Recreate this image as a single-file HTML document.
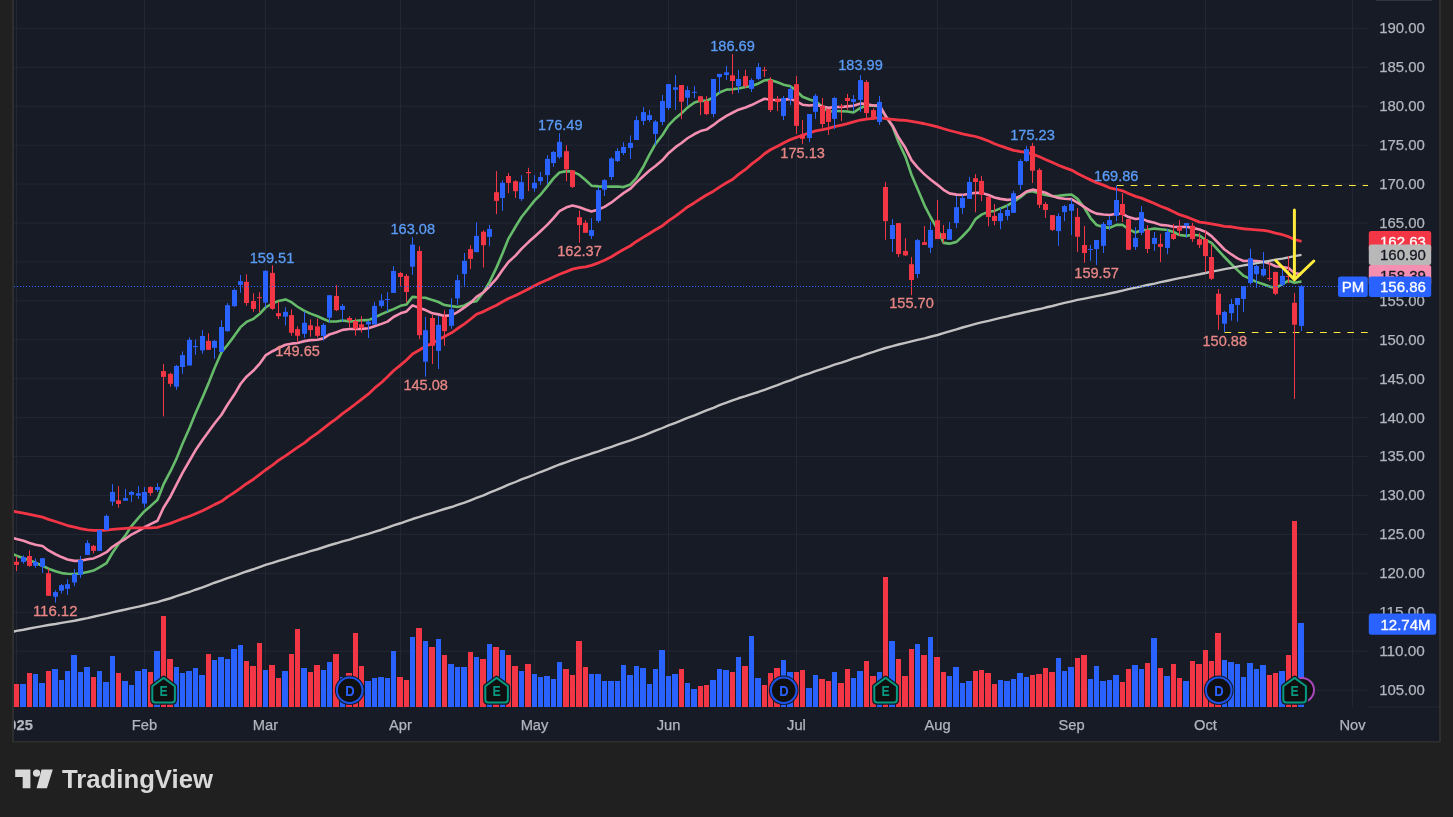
<!DOCTYPE html>
<html lang="en"><head><meta charset="utf-8"><title>PM chart - TradingView</title>
<style>html,body{margin:0;padding:0;background:#202020;overflow:hidden}body{width:1453px;height:817px}</style></head>
<body>
<svg width="1453" height="817" viewBox="0 0 1453 817" style="display:block;font-family:'Liberation Sans',sans-serif;will-change:transform">
<rect x="0" y="0" width="1453" height="817" fill="#202020"/>
<rect x="13" y="-2" width="1427" height="743.5" fill="#171b26"/>
<g fill="#232734">
<rect x="14" y="27.90" width="1354" height="1"/>
<rect x="14" y="66.82" width="1354" height="1"/>
<rect x="14" y="105.74" width="1354" height="1"/>
<rect x="14" y="144.66" width="1354" height="1"/>
<rect x="14" y="183.58" width="1354" height="1"/>
<rect x="14" y="222.50" width="1354" height="1"/>
<rect x="14" y="261.42" width="1354" height="1"/>
<rect x="14" y="300.34" width="1354" height="1"/>
<rect x="14" y="339.26" width="1354" height="1"/>
<rect x="14" y="378.18" width="1354" height="1"/>
<rect x="14" y="417.10" width="1354" height="1"/>
<rect x="14" y="456.02" width="1354" height="1"/>
<rect x="14" y="494.94" width="1354" height="1"/>
<rect x="14" y="533.86" width="1354" height="1"/>
<rect x="14" y="572.78" width="1354" height="1"/>
<rect x="14" y="611.70" width="1354" height="1"/>
<rect x="14" y="650.62" width="1354" height="1"/>
<rect x="14" y="689.54" width="1354" height="1"/>
<rect x="16.0" y="0" width="1" height="707"/>
<rect x="144.0" y="0" width="1" height="707"/>
<rect x="265.0" y="0" width="1" height="707"/>
<rect x="400.0" y="0" width="1" height="707"/>
<rect x="534.0" y="0" width="1" height="707"/>
<rect x="668.0" y="0" width="1" height="707"/>
<rect x="796.0" y="0" width="1" height="707"/>
<rect x="937.0" y="0" width="1" height="707"/>
<rect x="1071.0" y="0" width="1" height="707"/>
<rect x="1205.0" y="0" width="1" height="707"/>
<rect x="1352.0" y="0" width="1" height="707"/>
<rect x="1368" y="706.5" width="72" height="1"/>
</g>
<g shape-rendering="crispEdges">
<rect x="14" y="683.9" width="5" height="23.1" fill="#f23645"/>
<rect x="20" y="683.9" width="6" height="23.1" fill="#2962ff"/>
<rect x="27" y="672.9" width="5" height="34.1" fill="#f23645"/>
<rect x="33" y="674.0" width="5" height="33.0" fill="#2962ff"/>
<rect x="39" y="683.0" width="6" height="24.0" fill="#2962ff"/>
<rect x="46" y="671.1" width="5" height="35.9" fill="#f23645"/>
<rect x="52" y="668.9" width="6" height="38.1" fill="#2962ff"/>
<rect x="59" y="679.9" width="5" height="27.1" fill="#2962ff"/>
<rect x="65" y="671.1" width="5" height="35.9" fill="#2962ff"/>
<rect x="71" y="654.7" width="6" height="52.3" fill="#2962ff"/>
<rect x="78" y="672.0" width="5" height="35.0" fill="#2962ff"/>
<rect x="84" y="667.0" width="6" height="40.0" fill="#2962ff"/>
<rect x="91" y="676.8" width="5" height="30.2" fill="#f23645"/>
<rect x="97" y="671.1" width="5" height="35.9" fill="#2962ff"/>
<rect x="103" y="682.1" width="6" height="24.9" fill="#2962ff"/>
<rect x="110" y="656.0" width="5" height="51.0" fill="#2962ff"/>
<rect x="116" y="672.9" width="5" height="34.1" fill="#f23645"/>
<rect x="122" y="680.8" width="6" height="26.2" fill="#2962ff"/>
<rect x="129" y="685.0" width="5" height="22.0" fill="#2962ff"/>
<rect x="135" y="671.1" width="6" height="35.9" fill="#2962ff"/>
<rect x="142" y="668.9" width="5" height="38.1" fill="#2962ff"/>
<rect x="148" y="672.0" width="5" height="35.0" fill="#f23645"/>
<rect x="154" y="651.1" width="6" height="55.9" fill="#2962ff"/>
<rect x="161" y="616.2" width="5" height="90.8" fill="#f23645"/>
<rect x="167" y="659.1" width="6" height="47.9" fill="#f23645"/>
<rect x="174" y="667.0" width="5" height="40.0" fill="#2962ff"/>
<rect x="180" y="672.9" width="5" height="34.1" fill="#2962ff"/>
<rect x="186" y="671.1" width="6" height="35.9" fill="#2962ff"/>
<rect x="193" y="668.0" width="5" height="39.0" fill="#2962ff"/>
<rect x="199" y="675.0" width="6" height="32.0" fill="#2962ff"/>
<rect x="206" y="654.0" width="5" height="53.0" fill="#f23645"/>
<rect x="212" y="660.0" width="5" height="47.0" fill="#2962ff"/>
<rect x="218" y="657.1" width="6" height="49.9" fill="#2962ff"/>
<rect x="225" y="658.9" width="5" height="48.1" fill="#2962ff"/>
<rect x="231" y="649.0" width="6" height="58.0" fill="#2962ff"/>
<rect x="238" y="645.0" width="5" height="62.0" fill="#2962ff"/>
<rect x="244" y="660.9" width="5" height="46.1" fill="#f23645"/>
<rect x="250" y="665.9" width="6" height="41.1" fill="#f23645"/>
<rect x="257" y="643.0" width="5" height="64.0" fill="#f23645"/>
<rect x="263" y="669.9" width="5" height="37.1" fill="#2962ff"/>
<rect x="269" y="665.1" width="6" height="41.9" fill="#f23645"/>
<rect x="276" y="677.9" width="5" height="29.1" fill="#f23645"/>
<rect x="282" y="670.8" width="6" height="36.2" fill="#2962ff"/>
<rect x="289" y="654.0" width="5" height="53.0" fill="#f23645"/>
<rect x="295" y="629.0" width="5" height="78.0" fill="#f23645"/>
<rect x="301" y="667.8" width="6" height="39.2" fill="#2962ff"/>
<rect x="308" y="671.9" width="5" height="35.1" fill="#f23645"/>
<rect x="314" y="665.1" width="6" height="41.9" fill="#f23645"/>
<rect x="321" y="669.9" width="5" height="37.1" fill="#2962ff"/>
<rect x="327" y="661.9" width="5" height="45.1" fill="#2962ff"/>
<rect x="333" y="654.0" width="6" height="53.0" fill="#f23645"/>
<rect x="340" y="677.4" width="5" height="29.6" fill="#2962ff"/>
<rect x="346" y="672.9" width="6" height="34.1" fill="#f23645"/>
<rect x="353" y="633.0" width="5" height="74.0" fill="#f23645"/>
<rect x="359" y="665.9" width="5" height="41.1" fill="#f23645"/>
<rect x="365" y="680.9" width="6" height="26.1" fill="#2962ff"/>
<rect x="372" y="677.9" width="5" height="29.1" fill="#2962ff"/>
<rect x="378" y="676.9" width="6" height="30.1" fill="#2962ff"/>
<rect x="385" y="677.9" width="5" height="29.1" fill="#2962ff"/>
<rect x="391" y="651.0" width="5" height="56.0" fill="#2962ff"/>
<rect x="397" y="676.9" width="6" height="30.1" fill="#f23645"/>
<rect x="404" y="679.9" width="5" height="27.1" fill="#f23645"/>
<rect x="410" y="637.0" width="5" height="70.0" fill="#2962ff"/>
<rect x="416" y="627.9" width="6" height="79.1" fill="#f23645"/>
<rect x="423" y="641.0" width="5" height="66.0" fill="#2962ff"/>
<rect x="429" y="646.9" width="6" height="60.1" fill="#f23645"/>
<rect x="436" y="638.9" width="5" height="68.1" fill="#2962ff"/>
<rect x="442" y="654.9" width="5" height="52.1" fill="#f23645"/>
<rect x="448" y="664.0" width="6" height="43.0" fill="#2962ff"/>
<rect x="455" y="666.8" width="5" height="40.2" fill="#2962ff"/>
<rect x="461" y="666.8" width="6" height="40.2" fill="#2962ff"/>
<rect x="468" y="652.0" width="5" height="55.0" fill="#f23645"/>
<rect x="474" y="656.9" width="5" height="50.1" fill="#2962ff"/>
<rect x="480" y="658.9" width="6" height="48.1" fill="#f23645"/>
<rect x="487" y="644.0" width="5" height="63.0" fill="#2962ff"/>
<rect x="493" y="646.9" width="6" height="60.1" fill="#f23645"/>
<rect x="500" y="649.9" width="5" height="57.1" fill="#2962ff"/>
<rect x="506" y="654.9" width="5" height="52.1" fill="#f23645"/>
<rect x="512" y="665.9" width="6" height="41.1" fill="#f23645"/>
<rect x="519" y="670.8" width="5" height="36.2" fill="#2962ff"/>
<rect x="525" y="664.0" width="6" height="43.0" fill="#f23645"/>
<rect x="532" y="673.9" width="5" height="33.1" fill="#2962ff"/>
<rect x="538" y="676.9" width="5" height="30.1" fill="#2962ff"/>
<rect x="544" y="675.9" width="6" height="31.1" fill="#2962ff"/>
<rect x="551" y="678.8" width="5" height="28.2" fill="#2962ff"/>
<rect x="557" y="661.9" width="5" height="45.1" fill="#2962ff"/>
<rect x="563" y="668.9" width="6" height="38.1" fill="#f23645"/>
<rect x="570" y="675.0" width="5" height="32.0" fill="#f23645"/>
<rect x="576" y="641.0" width="6" height="66.0" fill="#f23645"/>
<rect x="583" y="666.8" width="5" height="40.2" fill="#f23645"/>
<rect x="589" y="673.9" width="5" height="33.1" fill="#2962ff"/>
<rect x="595" y="673.9" width="6" height="33.1" fill="#2962ff"/>
<rect x="602" y="680.9" width="5" height="26.1" fill="#2962ff"/>
<rect x="608" y="680.9" width="6" height="26.1" fill="#2962ff"/>
<rect x="615" y="680.9" width="5" height="26.1" fill="#2962ff"/>
<rect x="621" y="664.9" width="5" height="42.1" fill="#2962ff"/>
<rect x="627" y="675.0" width="6" height="32.0" fill="#2962ff"/>
<rect x="634" y="665.9" width="5" height="41.1" fill="#2962ff"/>
<rect x="640" y="667.8" width="6" height="39.2" fill="#2962ff"/>
<rect x="647" y="683.9" width="5" height="23.1" fill="#2962ff"/>
<rect x="653" y="668.9" width="5" height="38.1" fill="#2962ff"/>
<rect x="659" y="649.9" width="6" height="57.1" fill="#2962ff"/>
<rect x="666" y="675.9" width="5" height="31.1" fill="#2962ff"/>
<rect x="672" y="673.9" width="6" height="33.1" fill="#2962ff"/>
<rect x="679" y="668.9" width="5" height="38.1" fill="#f23645"/>
<rect x="685" y="683.0" width="5" height="24.0" fill="#2962ff"/>
<rect x="691" y="688.9" width="6" height="18.1" fill="#2962ff"/>
<rect x="698" y="685.8" width="5" height="21.2" fill="#f23645"/>
<rect x="704" y="684.9" width="5" height="22.1" fill="#f23645"/>
<rect x="710" y="679.9" width="6" height="27.1" fill="#2962ff"/>
<rect x="717" y="668.9" width="5" height="38.1" fill="#2962ff"/>
<rect x="723" y="669.9" width="6" height="37.1" fill="#2962ff"/>
<rect x="730" y="671.9" width="5" height="35.1" fill="#f23645"/>
<rect x="736" y="656.9" width="5" height="50.1" fill="#2962ff"/>
<rect x="742" y="665.9" width="6" height="41.1" fill="#f23645"/>
<rect x="749" y="635.9" width="5" height="71.1" fill="#2962ff"/>
<rect x="755" y="677.9" width="6" height="29.1" fill="#2962ff"/>
<rect x="762" y="684.9" width="5" height="22.1" fill="#f23645"/>
<rect x="768" y="673.2" width="5" height="33.8" fill="#f23645"/>
<rect x="774" y="668.3" width="6" height="38.7" fill="#f23645"/>
<rect x="781" y="660.0" width="5" height="47.0" fill="#2962ff"/>
<rect x="787" y="671.9" width="6" height="35.1" fill="#2962ff"/>
<rect x="794" y="671.9" width="5" height="35.1" fill="#f23645"/>
<rect x="800" y="670.1" width="5" height="36.9" fill="#f23645"/>
<rect x="806" y="688.1" width="6" height="18.9" fill="#2962ff"/>
<rect x="813" y="675.1" width="5" height="31.9" fill="#2962ff"/>
<rect x="819" y="679.1" width="6" height="27.9" fill="#f23645"/>
<rect x="826" y="681.1" width="5" height="25.9" fill="#f23645"/>
<rect x="832" y="671.9" width="5" height="35.1" fill="#2962ff"/>
<rect x="838" y="683.1" width="6" height="23.9" fill="#f23645"/>
<rect x="845" y="669.2" width="5" height="37.8" fill="#f23645"/>
<rect x="851" y="678.2" width="5" height="28.8" fill="#2962ff"/>
<rect x="857" y="671.0" width="6" height="36.0" fill="#2962ff"/>
<rect x="864" y="661.1" width="5" height="45.9" fill="#f23645"/>
<rect x="870" y="676.2" width="6" height="30.8" fill="#f23645"/>
<rect x="877" y="672.1" width="5" height="34.9" fill="#2962ff"/>
<rect x="883" y="577.0" width="5" height="130.0" fill="#f23645"/>
<rect x="889" y="641.1" width="6" height="65.9" fill="#2962ff"/>
<rect x="896" y="659.1" width="5" height="47.9" fill="#f23645"/>
<rect x="902" y="676.2" width="6" height="30.8" fill="#f23645"/>
<rect x="909" y="649.0" width="5" height="58.0" fill="#f23645"/>
<rect x="915" y="644.0" width="5" height="63.0" fill="#2962ff"/>
<rect x="921" y="655.0" width="6" height="52.0" fill="#f23645"/>
<rect x="928" y="637.0" width="5" height="70.0" fill="#2962ff"/>
<rect x="934" y="657.1" width="6" height="49.9" fill="#f23645"/>
<rect x="941" y="672.1" width="5" height="34.9" fill="#f23645"/>
<rect x="947" y="676.2" width="5" height="30.8" fill="#2962ff"/>
<rect x="953" y="667.0" width="6" height="40.0" fill="#2962ff"/>
<rect x="960" y="683.0" width="5" height="24.0" fill="#2962ff"/>
<rect x="966" y="680.9" width="6" height="26.1" fill="#2962ff"/>
<rect x="973" y="670.8" width="5" height="36.2" fill="#f23645"/>
<rect x="979" y="669.9" width="5" height="37.1" fill="#f23645"/>
<rect x="985" y="672.9" width="6" height="34.1" fill="#f23645"/>
<rect x="992" y="683.9" width="5" height="23.1" fill="#f23645"/>
<rect x="998" y="679.9" width="5" height="27.1" fill="#2962ff"/>
<rect x="1004" y="680.9" width="6" height="26.1" fill="#2962ff"/>
<rect x="1011" y="679.0" width="5" height="28.0" fill="#2962ff"/>
<rect x="1017" y="672.9" width="6" height="34.1" fill="#2962ff"/>
<rect x="1024" y="676.9" width="5" height="30.1" fill="#2962ff"/>
<rect x="1030" y="675.0" width="5" height="32.0" fill="#f23645"/>
<rect x="1036" y="673.9" width="6" height="33.1" fill="#f23645"/>
<rect x="1043" y="667.8" width="5" height="39.2" fill="#f23645"/>
<rect x="1049" y="671.9" width="6" height="35.1" fill="#f23645"/>
<rect x="1056" y="657.9" width="5" height="49.1" fill="#2962ff"/>
<rect x="1062" y="670.8" width="5" height="36.2" fill="#2962ff"/>
<rect x="1068" y="666.8" width="6" height="40.2" fill="#2962ff"/>
<rect x="1075" y="657.9" width="5" height="49.1" fill="#f23645"/>
<rect x="1081" y="654.9" width="6" height="52.1" fill="#f23645"/>
<rect x="1088" y="679.0" width="5" height="28.0" fill="#2962ff"/>
<rect x="1094" y="665.9" width="5" height="41.1" fill="#2962ff"/>
<rect x="1100" y="680.9" width="6" height="26.1" fill="#2962ff"/>
<rect x="1107" y="679.9" width="5" height="27.1" fill="#2962ff"/>
<rect x="1113" y="675.0" width="6" height="32.0" fill="#2962ff"/>
<rect x="1120" y="681.9" width="5" height="25.1" fill="#f23645"/>
<rect x="1126" y="668.9" width="5" height="38.1" fill="#f23645"/>
<rect x="1132" y="664.9" width="6" height="42.1" fill="#2962ff"/>
<rect x="1139" y="668.9" width="5" height="38.1" fill="#2962ff"/>
<rect x="1145" y="662.9" width="5" height="44.1" fill="#f23645"/>
<rect x="1151" y="637.8" width="6" height="69.2" fill="#2962ff"/>
<rect x="1158" y="667.8" width="5" height="39.2" fill="#f23645"/>
<rect x="1164" y="675.8" width="6" height="31.2" fill="#2962ff"/>
<rect x="1171" y="663.7" width="5" height="43.3" fill="#f23645"/>
<rect x="1177" y="677.6" width="5" height="29.4" fill="#f23645"/>
<rect x="1183" y="681.0" width="6" height="26.0" fill="#2962ff"/>
<rect x="1190" y="660.9" width="5" height="46.1" fill="#f23645"/>
<rect x="1196" y="663.7" width="6" height="43.3" fill="#f23645"/>
<rect x="1203" y="649.8" width="5" height="57.2" fill="#f23645"/>
<rect x="1209" y="660.9" width="5" height="46.1" fill="#f23645"/>
<rect x="1215" y="632.9" width="6" height="74.1" fill="#f23645"/>
<rect x="1222" y="659.9" width="5" height="47.1" fill="#2962ff"/>
<rect x="1228" y="661.7" width="6" height="45.3" fill="#2962ff"/>
<rect x="1235" y="663.7" width="5" height="43.3" fill="#2962ff"/>
<rect x="1241" y="676.6" width="5" height="30.4" fill="#2962ff"/>
<rect x="1247" y="663.0" width="6" height="44.0" fill="#2962ff"/>
<rect x="1254" y="668.9" width="5" height="38.1" fill="#2962ff"/>
<rect x="1260" y="664.8" width="6" height="42.2" fill="#2962ff"/>
<rect x="1267" y="674.8" width="5" height="32.2" fill="#f23645"/>
<rect x="1273" y="673.0" width="5" height="34.0" fill="#f23645"/>
<rect x="1279" y="670.9" width="6" height="36.1" fill="#2962ff"/>
<rect x="1286" y="654.7" width="5" height="52.3" fill="#f23645"/>
<rect x="1292" y="520.8" width="5" height="186.2" fill="#f23645"/>
<rect x="1298" y="622.6" width="6" height="84.4" fill="#2962ff"/>
</g>
<polyline points="13.0,554.21 16.5,555.62 23.5,558.18 29.5,560.26 35.5,562.75 42.5,565.72 48.5,568.67 55.5,571.22 61.5,573.09 67.5,573.77 74.5,573.93 80.5,573.43 87.5,572.04 93.5,570.53 99.5,567.37 106.5,563.15 112.5,552.77 118.5,543.96 125.5,535.25 131.5,526.03 138.5,517.95 144.5,511.16 150.5,506.14 157.5,499.77 163.5,484.44 170.5,471.23 176.5,458.62 182.5,443.73 189.5,427.91 195.5,413.32 202.5,397.59 208.5,383.37 214.5,368.17 221.5,352.16 227.5,344.98 234.5,335.60 240.5,327.13 246.5,321.93 253.5,318.82 259.5,314.02 265.5,307.50 272.5,303.40 278.5,300.93 285.5,299.41 291.5,302.17 297.5,306.75 304.5,310.92 310.5,313.62 317.5,316.31 323.5,318.99 329.5,321.43 336.5,321.56 342.5,320.53 349.5,321.40 355.5,321.00 361.5,320.21 368.5,320.12 374.5,317.69 381.5,314.16 387.5,311.57 393.5,309.16 400.5,305.83 406.5,304.44 412.5,296.84 419.5,297.48 425.5,297.72 432.5,300.11 438.5,302.01 444.5,305.08 451.5,306.10 457.5,307.02 464.5,305.42 470.5,302.11 476.5,301.24 483.5,292.23 489.5,282.12 496.5,267.63 502.5,253.42 508.5,238.59 515.5,226.78 521.5,216.98 528.5,208.22 534.5,200.62 540.5,194.73 547.5,186.09 553.5,178.39 559.5,172.48 566.5,171.13 572.5,171.55 579.5,174.94 585.5,180.00 591.5,185.68 598.5,186.40 604.5,186.72 611.5,186.67 617.5,186.57 623.5,187.09 630.5,184.45 636.5,177.76 643.5,166.46 649.5,154.70 655.5,143.85 662.5,134.94 668.5,125.34 675.5,118.21 681.5,113.29 687.5,107.60 694.5,102.50 700.5,100.67 706.5,100.86 713.5,97.25 719.5,92.47 726.5,89.61 732.5,89.31 738.5,88.48 745.5,86.92 751.5,85.92 758.5,83.43 764.5,80.32 770.5,79.92 777.5,82.23 783.5,84.64 790.5,86.32 796.5,90.80 802.5,96.78 809.5,99.57 815.5,101.14 822.5,106.82 828.5,111.96 834.5,110.76 841.5,111.23 847.5,111.52 853.5,112.53 860.5,107.94 866.5,105.38 873.5,105.76 879.5,106.37 885.5,116.08 892.5,126.39 898.5,142.00 905.5,156.86 911.5,174.75 917.5,188.85 924.5,205.33 930.5,217.02 937.5,229.13 943.5,242.84 949.5,243.66 956.5,241.87 962.5,236.26 969.5,228.92 975.5,219.13 981.5,214.61 988.5,211.82 994.5,210.93 1000.5,208.34 1007.5,205.44 1013.5,201.85 1020.5,197.23 1026.5,192.34 1032.5,191.21 1039.5,193.48 1045.5,195.00 1052.5,196.28 1058.5,195.79 1064.5,195.09 1071.5,194.48 1077.5,198.84 1084.5,208.04 1090.5,218.04 1096.5,224.96 1103.5,226.89 1109.5,227.89 1116.5,224.90 1122.5,224.80 1128.5,229.18 1135.5,232.57 1141.5,230.10 1147.5,229.70 1154.5,228.59 1160.5,229.29 1167.5,230.08 1173.5,231.98 1179.5,235.06 1186.5,235.86 1192.5,234.79 1199.5,235.49 1205.5,239.88 1211.5,242.85 1218.5,250.54 1224.5,257.03 1231.5,264.23 1237.5,270.13 1243.5,275.67 1250.5,279.18 1256.5,281.87 1263.5,284.27 1269.5,286.58 1275.5,288.09 1282.5,284.20 1288.5,280.70 1294.5,282.78 1301.5,281.59" fill="none" stroke="#66bb6a" stroke-width="2.6" stroke-linejoin="round" stroke-linecap="butt"/>
<polyline points="13.0,538.11 16.5,539.09 23.5,540.73 29.5,543.01 35.5,544.72 42.5,545.94 48.5,550.48 55.5,554.26 61.5,557.07 67.5,559.54 74.5,560.87 80.5,560.79 87.5,559.18 93.5,558.42 99.5,555.86 106.5,552.22 112.5,546.75 118.5,542.86 125.5,538.79 131.5,534.54 138.5,530.80 144.5,527.27 150.5,524.15 157.5,520.78 163.5,507.71 170.5,496.45 176.5,484.58 182.5,472.81 189.5,460.73 195.5,450.31 202.5,439.91 208.5,431.73 214.5,423.48 221.5,414.71 227.5,404.75 234.5,394.31 240.5,384.03 246.5,376.67 253.5,370.51 259.5,363.92 265.5,355.46 272.5,351.23 278.5,348.04 285.5,344.75 291.5,343.66 297.5,342.94 304.5,341.12 310.5,340.12 317.5,339.72 323.5,338.37 329.5,334.45 336.5,332.24 342.5,329.85 349.5,329.00 355.5,328.98 361.5,328.88 368.5,328.25 374.5,326.21 381.5,323.87 387.5,321.61 393.5,317.01 400.5,313.36 406.5,311.42 412.5,305.34 419.5,308.06 425.5,310.07 432.5,313.33 438.5,314.38 444.5,315.90 451.5,315.29 457.5,312.11 464.5,307.45 470.5,303.03 476.5,296.93 483.5,292.23 489.5,286.48 496.5,278.70 502.5,269.99 508.5,262.06 515.5,255.62 521.5,248.94 528.5,242.06 534.5,236.68 540.5,231.25 547.5,224.67 553.5,218.07 559.5,211.14 566.5,207.34 572.5,205.49 579.5,207.27 585.5,209.58 591.5,211.45 598.5,209.51 604.5,206.83 611.5,202.44 617.5,197.76 623.5,193.15 630.5,188.58 636.5,182.35 643.5,175.96 649.5,170.43 655.5,166.00 662.5,160.09 668.5,153.18 675.5,147.18 681.5,143.05 687.5,138.24 694.5,134.03 700.5,131.10 706.5,129.54 713.5,124.95 719.5,120.31 726.5,115.94 732.5,112.77 738.5,109.70 745.5,107.56 751.5,105.07 758.5,101.61 764.5,98.79 770.5,99.81 777.5,100.01 783.5,99.84 790.5,98.86 796.5,101.32 802.5,104.73 809.5,105.57 815.5,104.68 822.5,106.43 828.5,107.84 834.5,106.95 841.5,106.94 847.5,106.39 853.5,105.73 860.5,103.40 866.5,104.28 873.5,105.52 879.5,105.18 885.5,115.72 892.5,125.65 898.5,137.33 905.5,148.06 911.5,160.05 917.5,167.33 924.5,174.38 930.5,179.43 937.5,184.85 943.5,189.77 949.5,193.35 956.5,194.61 962.5,194.91 969.5,193.74 975.5,192.68 981.5,192.88 988.5,195.08 994.5,197.44 1000.5,198.86 1007.5,199.87 1013.5,199.26 1020.5,195.79 1026.5,191.54 1032.5,189.65 1039.5,191.02 1045.5,192.75 1052.5,196.13 1058.5,197.94 1064.5,198.68 1071.5,199.16 1077.5,202.58 1084.5,207.17 1090.5,210.97 1096.5,213.61 1103.5,214.55 1109.5,215.05 1116.5,213.69 1122.5,213.82 1128.5,217.09 1135.5,218.98 1141.5,218.35 1147.5,221.14 1154.5,222.66 1160.5,224.87 1167.5,225.52 1173.5,226.75 1179.5,227.12 1186.5,226.75 1192.5,227.87 1199.5,229.42 1205.5,231.84 1211.5,236.11 1218.5,243.26 1224.5,249.49 1231.5,254.45 1237.5,258.41 1243.5,260.93 1250.5,260.69 1256.5,261.16 1263.5,261.86 1269.5,263.44 1275.5,266.20 1282.5,267.08 1288.5,267.98 1294.5,273.13 1301.5,274.32" fill="none" stroke="#f48fb1" stroke-width="2.6" stroke-linejoin="round" stroke-linecap="butt"/>
<polyline points="13.0,511.13 16.5,511.78 23.5,513.06 29.5,514.33 35.5,515.61 42.5,517.15 48.5,519.32 55.5,521.47 61.5,523.51 67.5,525.51 74.5,527.05 80.5,528.58 87.5,529.86 93.5,530.34 99.5,530.48 106.5,530.05 112.5,529.46 118.5,528.82 125.5,528.35 131.5,527.96 138.5,527.79 144.5,527.79 150.5,527.79 157.5,527.44 163.5,525.52 170.5,523.36 176.5,520.96 182.5,518.61 189.5,516.26 195.5,513.74 202.5,510.75 208.5,507.77 214.5,504.62 221.5,501.33 227.5,496.86 234.5,492.44 240.5,488.13 246.5,483.70 253.5,479.21 259.5,474.69 265.5,470.01 272.5,465.19 278.5,460.42 285.5,455.91 291.5,451.55 297.5,447.37 304.5,442.83 310.5,437.86 317.5,433.18 323.5,428.47 329.5,423.68 336.5,418.58 342.5,413.56 349.5,408.66 355.5,403.99 361.5,399.39 368.5,393.91 374.5,388.19 381.5,382.49 387.5,376.79 393.5,370.72 400.5,365.06 406.5,360.04 412.5,353.92 419.5,350.02 425.5,346.30 432.5,343.38 438.5,339.80 444.5,336.46 451.5,332.80 457.5,328.54 464.5,323.91 470.5,319.23 476.5,314.21 483.5,311.58 489.5,308.48 496.5,305.18 502.5,301.73 508.5,298.59 515.5,295.49 521.5,292.42 528.5,288.88 534.5,285.72 540.5,282.72 547.5,279.80 553.5,277.04 559.5,274.25 566.5,271.58 572.5,269.14 579.5,267.68 585.5,266.92 591.5,265.34 598.5,262.82 604.5,260.18 611.5,256.70 617.5,253.00 623.5,249.49 630.5,245.74 636.5,241.43 643.5,237.17 649.5,233.57 655.5,229.80 662.5,225.70 668.5,220.97 675.5,216.14 681.5,211.62 687.5,206.98 694.5,202.70 700.5,198.73 706.5,195.03 713.5,191.19 719.5,187.13 726.5,182.73 732.5,179.46 738.5,174.34 745.5,169.46 751.5,164.14 758.5,158.99 764.5,153.78 770.5,149.79 777.5,146.23 783.5,142.97 790.5,139.58 796.5,137.38 802.5,135.25 809.5,132.95 815.5,130.85 822.5,129.67 828.5,128.45 834.5,126.59 841.5,125.08 847.5,123.63 853.5,121.96 860.5,120.02 866.5,119.11 873.5,118.42 879.5,117.62 885.5,118.66 892.5,119.42 898.5,120.00 905.5,120.45 911.5,121.45 917.5,122.45 924.5,123.75 930.5,125.17 937.5,126.93 943.5,128.77 949.5,130.50 956.5,132.24 962.5,133.96 969.5,135.30 975.5,136.50 981.5,138.38 988.5,141.04 994.5,143.72 1000.5,145.94 1007.5,148.34 1013.5,150.37 1020.5,151.55 1026.5,152.25 1032.5,154.09 1039.5,156.71 1045.5,159.46 1052.5,162.44 1058.5,165.18 1064.5,167.58 1071.5,170.06 1077.5,173.45 1084.5,177.10 1090.5,179.88 1096.5,182.64 1103.5,185.15 1109.5,187.78 1116.5,189.26 1122.5,190.78 1128.5,193.50 1135.5,196.34 1141.5,198.10 1147.5,200.65 1154.5,203.44 1160.5,206.25 1167.5,208.87 1173.5,211.66 1179.5,214.68 1186.5,216.88 1192.5,219.30 1199.5,222.16 1205.5,222.86 1211.5,223.94 1218.5,225.15 1224.5,226.28 1231.5,226.76 1237.5,227.92 1243.5,228.75 1250.5,229.31 1256.5,229.85 1263.5,230.45 1269.5,231.45 1275.5,233.18 1282.5,234.74 1288.5,236.64 1294.5,239.49 1301.5,241.32" fill="none" stroke="#f23645" stroke-width="2.8" stroke-linejoin="round" stroke-linecap="butt"/>
<polyline points="13.0,631.75 16.5,630.82 23.5,629.75 29.5,628.55 35.5,627.32 42.5,626.14 48.5,625.03 55.5,623.96 61.5,622.90 67.5,621.84 74.5,620.71 80.5,619.49 87.5,618.16 93.5,616.76 99.5,615.33 106.5,613.89 112.5,612.43 118.5,610.96 125.5,609.50 131.5,608.06 138.5,606.64 144.5,605.21 150.5,603.71 157.5,602.06 163.5,600.22 170.5,598.25 176.5,596.23 182.5,594.15 189.5,592.00 195.5,589.74 202.5,587.41 208.5,585.06 214.5,582.74 221.5,580.46 227.5,578.20 234.5,575.96 240.5,573.73 246.5,571.49 253.5,569.26 259.5,567.04 265.5,564.87 272.5,562.79 278.5,560.80 285.5,558.87 291.5,556.95 297.5,555.03 304.5,553.11 310.5,551.19 317.5,549.24 323.5,547.26 329.5,545.25 336.5,543.28 342.5,541.38 349.5,539.54 355.5,537.72 361.5,535.88 368.5,533.93 374.5,531.87 381.5,529.73 387.5,527.56 393.5,525.40 400.5,523.26 406.5,521.13 412.5,519.02 419.5,516.93 425.5,514.88 432.5,512.89 438.5,510.94 444.5,509.00 451.5,507.01 457.5,504.93 464.5,502.73 470.5,500.41 476.5,497.95 483.5,495.35 489.5,492.67 496.5,489.96 502.5,487.28 508.5,484.62 515.5,482.00 521.5,479.46 528.5,476.98 534.5,474.51 540.5,472.01 547.5,469.48 553.5,466.97 559.5,464.49 566.5,462.10 572.5,459.84 579.5,457.69 585.5,455.62 591.5,453.52 598.5,451.36 604.5,449.15 611.5,446.93 617.5,444.74 623.5,442.55 630.5,440.35 636.5,438.08 643.5,435.68 649.5,433.17 655.5,430.60 662.5,428.00 668.5,425.38 675.5,422.80 681.5,420.28 687.5,417.82 694.5,415.38 700.5,412.91 706.5,410.36 713.5,407.78 719.5,405.21 726.5,402.73 732.5,400.41 738.5,398.26 745.5,396.19 751.5,394.11 758.5,391.98 764.5,389.79 770.5,387.52 777.5,385.16 783.5,382.74 790.5,380.33 796.5,377.96 802.5,375.64 809.5,373.38 815.5,371.14 822.5,368.94 828.5,366.78 834.5,364.68 841.5,362.62 847.5,360.55 853.5,358.45 860.5,356.30 866.5,354.11 873.5,351.95 879.5,349.89 885.5,347.99 892.5,346.20 898.5,344.51 905.5,342.91 911.5,341.40 917.5,339.91 924.5,338.37 930.5,336.73 937.5,335.01 943.5,333.22 949.5,331.36 956.5,329.43 962.5,327.50 969.5,325.65 975.5,323.96 981.5,322.41 988.5,320.93 994.5,319.43 1000.5,317.89 1007.5,316.32 1013.5,314.77 1020.5,313.29 1026.5,311.87 1032.5,310.47 1039.5,309.04 1045.5,307.54 1052.5,305.98 1058.5,304.39 1064.5,302.82 1071.5,301.30 1077.5,299.88 1084.5,298.58 1090.5,297.35 1096.5,296.13 1103.5,294.85 1109.5,293.49 1116.5,292.03 1122.5,290.55 1128.5,289.10 1135.5,287.69 1141.5,286.32 1147.5,284.96 1154.5,283.56 1160.5,282.13 1167.5,280.71 1173.5,279.37 1179.5,278.09 1186.5,276.83 1192.5,275.56 1199.5,274.26 1205.5,272.96 1211.5,271.66 1218.5,270.38 1224.5,269.11 1231.5,267.86 1237.5,266.63 1243.5,265.43 1250.5,264.25 1256.5,263.09 1263.5,261.95 1269.5,260.81 1275.5,259.68 1282.5,258.56 1288.5,257.40 1294.5,256.19 1301.5,254.94" fill="none" stroke="#c2c2c2" stroke-width="2.4" stroke-linejoin="round" stroke-linecap="butt"/>
<line x1="1117" y1="185.5" x2="1368" y2="185.5" stroke="#ffeb3b" stroke-width="1.05" stroke-dasharray="6.7,6.95"/>
<line x1="1224.5" y1="332.5" x2="1368" y2="332.5" stroke="#ffeb3b" stroke-width="1.05" stroke-dasharray="6.7,6.95"/>
<g>
<rect x="16" y="556.3" width="1" height="14.7" fill="#f23645"/>
<rect x="14" y="561.8" width="5" height="3.1" fill="#f23645"/>
<rect x="23" y="555.4" width="1" height="8.3" fill="#2962ff"/>
<rect x="21" y="557.1" width="5" height="4.8" fill="#2962ff"/>
<rect x="29" y="550.3" width="1" height="16.5" fill="#f23645"/>
<rect x="27" y="556.0" width="5" height="9.9" fill="#f23645"/>
<rect x="35" y="558.5" width="1" height="9.2" fill="#2962ff"/>
<rect x="33" y="561.8" width="5" height="4.0" fill="#2962ff"/>
<rect x="42" y="558.2" width="1" height="14.7" fill="#2962ff"/>
<rect x="40" y="558.2" width="5" height="8.6" fill="#2962ff"/>
<rect x="48" y="568.6" width="1" height="27.2" fill="#f23645"/>
<rect x="46" y="573.2" width="5" height="22.6" fill="#f23645"/>
<rect x="55" y="590.3" width="1" height="12.3" fill="#2962ff"/>
<rect x="53" y="592.1" width="5" height="4.6" fill="#2962ff"/>
<rect x="61" y="583.9" width="1" height="9.6" fill="#2962ff"/>
<rect x="59" y="585.2" width="5" height="5.5" fill="#2962ff"/>
<rect x="67" y="579.3" width="1" height="15.6" fill="#2962ff"/>
<rect x="65" y="584.2" width="5" height="4.6" fill="#2962ff"/>
<rect x="74" y="569.2" width="1" height="16.9" fill="#2962ff"/>
<rect x="72" y="574.1" width="5" height="8.4" fill="#2962ff"/>
<rect x="80" y="556.0" width="1" height="21.9" fill="#2962ff"/>
<rect x="78" y="560.0" width="5" height="14.7" fill="#2962ff"/>
<rect x="87" y="540.2" width="1" height="14.7" fill="#2962ff"/>
<rect x="85" y="543.1" width="5" height="11.8" fill="#2962ff"/>
<rect x="93" y="544.9" width="1" height="8.6" fill="#f23645"/>
<rect x="91" y="545.8" width="5" height="5.0" fill="#f23645"/>
<rect x="99" y="530.2" width="1" height="20.6" fill="#2962ff"/>
<rect x="97" y="530.2" width="5" height="20.6" fill="#2962ff"/>
<rect x="106" y="514.6" width="1" height="15.4" fill="#2962ff"/>
<rect x="104" y="515.9" width="5" height="14.1" fill="#2962ff"/>
<rect x="112" y="484.1" width="1" height="21.7" fill="#2962ff"/>
<rect x="110" y="492.0" width="5" height="9.6" fill="#2962ff"/>
<rect x="118" y="486.2" width="1" height="21.5" fill="#f23645"/>
<rect x="116" y="500.3" width="5" height="3.7" fill="#f23645"/>
<rect x="125" y="488.9" width="1" height="11.8" fill="#2962ff"/>
<rect x="123" y="498.1" width="5" height="2.6" fill="#2962ff"/>
<rect x="131" y="490.8" width="1" height="11.0" fill="#2962ff"/>
<rect x="129" y="492.0" width="5" height="2.8" fill="#2962ff"/>
<rect x="138" y="486.2" width="1" height="12.7" fill="#2962ff"/>
<rect x="136" y="493.3" width="5" height="2.4" fill="#2962ff"/>
<rect x="144" y="487.1" width="1" height="20.6" fill="#2962ff"/>
<rect x="142" y="492.0" width="5" height="11.6" fill="#2962ff"/>
<rect x="150" y="486.2" width="1" height="9.6" fill="#f23645"/>
<rect x="148" y="487.1" width="5" height="5.9" fill="#f23645"/>
<rect x="157" y="483.2" width="1" height="8.8" fill="#2962ff"/>
<rect x="155" y="487.1" width="5" height="2.8" fill="#2962ff"/>
<rect x="163" y="364.0" width="1" height="52.4" fill="#f23645"/>
<rect x="161" y="371.1" width="5" height="5.8" fill="#f23645"/>
<rect x="170" y="372.8" width="1" height="13.9" fill="#f23645"/>
<rect x="168" y="373.8" width="5" height="10.0" fill="#f23645"/>
<rect x="176" y="364.9" width="1" height="25.0" fill="#2962ff"/>
<rect x="174" y="365.9" width="5" height="20.8" fill="#2962ff"/>
<rect x="182" y="351.4" width="1" height="22.5" fill="#2962ff"/>
<rect x="180" y="355.1" width="5" height="11.9" fill="#2962ff"/>
<rect x="189" y="337.4" width="1" height="28.1" fill="#2962ff"/>
<rect x="187" y="339.9" width="5" height="25.6" fill="#2962ff"/>
<rect x="195" y="339.5" width="1" height="15.2" fill="#2962ff"/>
<rect x="193" y="346.1" width="5" height="1.0" fill="#2962ff"/>
<rect x="202" y="330.1" width="1" height="23.5" fill="#2962ff"/>
<rect x="200" y="336.0" width="5" height="14.4" fill="#2962ff"/>
<rect x="208" y="333.2" width="1" height="16.6" fill="#f23645"/>
<rect x="206" y="340.9" width="5" height="8.9" fill="#f23645"/>
<rect x="214" y="339.9" width="1" height="18.9" fill="#2962ff"/>
<rect x="212" y="340.9" width="5" height="6.9" fill="#2962ff"/>
<rect x="221" y="320.3" width="1" height="31.6" fill="#2962ff"/>
<rect x="219" y="327.0" width="5" height="25.0" fill="#2962ff"/>
<rect x="227" y="303.1" width="1" height="28.7" fill="#2962ff"/>
<rect x="225" y="305.2" width="5" height="26.0" fill="#2962ff"/>
<rect x="234" y="288.5" width="1" height="18.3" fill="#2962ff"/>
<rect x="232" y="290.0" width="5" height="16.2" fill="#2962ff"/>
<rect x="240" y="275.0" width="1" height="17.7" fill="#2962ff"/>
<rect x="238" y="281.2" width="5" height="3.7" fill="#2962ff"/>
<rect x="246" y="274.3" width="1" height="31.4" fill="#f23645"/>
<rect x="244" y="281.8" width="5" height="21.2" fill="#f23645"/>
<rect x="253" y="293.3" width="1" height="18.5" fill="#f23645"/>
<rect x="251" y="301.0" width="5" height="7.9" fill="#f23645"/>
<rect x="259" y="292.2" width="1" height="20.2" fill="#f23645"/>
<rect x="257" y="297.2" width="5" height="1.0" fill="#f23645"/>
<rect x="265" y="270.2" width="1" height="37.5" fill="#2962ff"/>
<rect x="263" y="270.8" width="5" height="31.8" fill="#2962ff"/>
<rect x="272" y="265.2" width="1" height="44.7" fill="#f23645"/>
<rect x="270" y="272.9" width="5" height="36.0" fill="#f23645"/>
<rect x="278" y="301.4" width="1" height="17.7" fill="#f23645"/>
<rect x="276" y="313.1" width="5" height="3.1" fill="#f23645"/>
<rect x="285" y="307.2" width="1" height="18.3" fill="#2962ff"/>
<rect x="283" y="311.8" width="5" height="4.8" fill="#2962ff"/>
<rect x="291" y="309.3" width="1" height="26.4" fill="#f23645"/>
<rect x="289" y="315.1" width="5" height="17.7" fill="#f23645"/>
<rect x="297" y="326.4" width="1" height="15.2" fill="#f23645"/>
<rect x="295" y="329.1" width="5" height="6.7" fill="#f23645"/>
<rect x="304" y="311.4" width="1" height="26.4" fill="#2962ff"/>
<rect x="302" y="322.8" width="5" height="11.0" fill="#2962ff"/>
<rect x="310" y="319.3" width="1" height="17.5" fill="#f23645"/>
<rect x="308" y="325.3" width="5" height="4.8" fill="#f23645"/>
<rect x="317" y="318.7" width="1" height="18.7" fill="#f23645"/>
<rect x="315" y="326.4" width="5" height="9.4" fill="#f23645"/>
<rect x="323" y="323.3" width="1" height="17.3" fill="#2962ff"/>
<rect x="321" y="324.9" width="5" height="11.0" fill="#2962ff"/>
<rect x="329" y="295.2" width="1" height="27.1" fill="#2962ff"/>
<rect x="327" y="295.2" width="5" height="22.5" fill="#2962ff"/>
<rect x="336" y="285.1" width="1" height="26.0" fill="#f23645"/>
<rect x="334" y="295.9" width="5" height="14.3" fill="#f23645"/>
<rect x="342" y="303.9" width="1" height="17.6" fill="#2962ff"/>
<rect x="340" y="305.9" width="5" height="3.9" fill="#2962ff"/>
<rect x="349" y="316.1" width="1" height="11.4" fill="#f23645"/>
<rect x="347" y="318.0" width="5" height="2.5" fill="#f23645"/>
<rect x="355" y="318.4" width="1" height="17.2" fill="#f23645"/>
<rect x="353" y="321.0" width="5" height="7.8" fill="#f23645"/>
<rect x="361" y="316.1" width="1" height="16.6" fill="#f23645"/>
<rect x="359" y="324.3" width="5" height="3.5" fill="#f23645"/>
<rect x="368" y="320.4" width="1" height="17.6" fill="#2962ff"/>
<rect x="366" y="321.9" width="5" height="2.5" fill="#2962ff"/>
<rect x="374" y="302.0" width="1" height="22.5" fill="#2962ff"/>
<rect x="372" y="305.9" width="5" height="18.6" fill="#2962ff"/>
<rect x="381" y="294.1" width="1" height="13.7" fill="#2962ff"/>
<rect x="379" y="300.4" width="5" height="5.5" fill="#2962ff"/>
<rect x="387" y="292.0" width="1" height="19.8" fill="#2962ff"/>
<rect x="385" y="299.0" width="5" height="1.0" fill="#2962ff"/>
<rect x="393" y="266.1" width="1" height="26.8" fill="#2962ff"/>
<rect x="391" y="271.0" width="5" height="21.9" fill="#2962ff"/>
<rect x="400" y="272.0" width="1" height="14.3" fill="#f23645"/>
<rect x="398" y="273.0" width="5" height="3.9" fill="#f23645"/>
<rect x="406" y="274.0" width="1" height="28.4" fill="#f23645"/>
<rect x="404" y="275.9" width="5" height="16.1" fill="#f23645"/>
<rect x="412" y="237.1" width="1" height="37.8" fill="#2962ff"/>
<rect x="410" y="244.6" width="5" height="22.1" fill="#2962ff"/>
<rect x="419" y="246.2" width="1" height="92.8" fill="#f23645"/>
<rect x="417" y="251.0" width="5" height="84.2" fill="#f23645"/>
<rect x="425" y="317.0" width="1" height="59.7" fill="#2962ff"/>
<rect x="423" y="330.2" width="5" height="31.5" fill="#2962ff"/>
<rect x="432" y="314.7" width="1" height="49.4" fill="#f23645"/>
<rect x="430" y="318.0" width="5" height="27.8" fill="#f23645"/>
<rect x="438" y="316.1" width="1" height="52.9" fill="#2962ff"/>
<rect x="436" y="324.9" width="5" height="26.0" fill="#2962ff"/>
<rect x="444" y="310.2" width="1" height="35.6" fill="#f23645"/>
<rect x="442" y="316.7" width="5" height="14.5" fill="#f23645"/>
<rect x="451" y="298.1" width="1" height="30.7" fill="#2962ff"/>
<rect x="449" y="309.2" width="5" height="16.6" fill="#2962ff"/>
<rect x="457" y="274.9" width="1" height="30.0" fill="#2962ff"/>
<rect x="455" y="280.2" width="5" height="18.2" fill="#2962ff"/>
<rect x="464" y="253.0" width="1" height="32.7" fill="#2962ff"/>
<rect x="462" y="260.8" width="5" height="13.1" fill="#2962ff"/>
<rect x="470" y="245.2" width="1" height="23.9" fill="#f23645"/>
<rect x="468" y="249.1" width="5" height="9.8" fill="#f23645"/>
<rect x="476" y="222.4" width="1" height="29.8" fill="#2962ff"/>
<rect x="474" y="235.9" width="5" height="16.2" fill="#2962ff"/>
<rect x="483" y="230.3" width="1" height="37.2" fill="#f23645"/>
<rect x="481" y="231.7" width="5" height="13.5" fill="#f23645"/>
<rect x="489" y="224.9" width="1" height="21.4" fill="#2962ff"/>
<rect x="487" y="229.0" width="5" height="7.9" fill="#2962ff"/>
<rect x="496" y="171.0" width="1" height="43.1" fill="#f23645"/>
<rect x="494" y="192.2" width="5" height="8.7" fill="#f23645"/>
<rect x="502" y="180.3" width="1" height="30.6" fill="#2962ff"/>
<rect x="500" y="182.8" width="5" height="15.2" fill="#2962ff"/>
<rect x="508" y="173.0" width="1" height="20.2" fill="#f23645"/>
<rect x="506" y="176.0" width="5" height="6.9" fill="#f23645"/>
<rect x="515" y="180.3" width="1" height="17.7" fill="#f23645"/>
<rect x="513" y="181.2" width="5" height="10.0" fill="#f23645"/>
<rect x="521" y="175.1" width="1" height="25.8" fill="#2962ff"/>
<rect x="519" y="182.2" width="5" height="16.9" fill="#2962ff"/>
<rect x="528" y="167.8" width="1" height="23.3" fill="#f23645"/>
<rect x="526" y="172.0" width="5" height="1.2" fill="#f23645"/>
<rect x="534" y="175.1" width="1" height="16.6" fill="#2962ff"/>
<rect x="532" y="182.8" width="5" height="5.6" fill="#2962ff"/>
<rect x="540" y="172.0" width="1" height="12.9" fill="#2962ff"/>
<rect x="538" y="177.0" width="5" height="4.2" fill="#2962ff"/>
<rect x="547" y="155.2" width="1" height="28.7" fill="#2962ff"/>
<rect x="545" y="158.9" width="5" height="16.2" fill="#2962ff"/>
<rect x="553" y="151.0" width="1" height="15.8" fill="#2962ff"/>
<rect x="551" y="152.0" width="5" height="11.0" fill="#2962ff"/>
<rect x="559" y="133.3" width="1" height="25.6" fill="#2962ff"/>
<rect x="557" y="141.8" width="5" height="15.4" fill="#2962ff"/>
<rect x="566" y="145.4" width="1" height="35.8" fill="#f23645"/>
<rect x="564" y="151.2" width="5" height="18.1" fill="#f23645"/>
<rect x="572" y="170.3" width="1" height="17.7" fill="#f23645"/>
<rect x="570" y="170.3" width="5" height="16.6" fill="#f23645"/>
<rect x="579" y="210.5" width="1" height="32.3" fill="#f23645"/>
<rect x="577" y="217.2" width="5" height="7.9" fill="#f23645"/>
<rect x="585" y="220.3" width="1" height="12.5" fill="#f23645"/>
<rect x="583" y="222.8" width="5" height="10.0" fill="#f23645"/>
<rect x="591" y="218.2" width="1" height="20.8" fill="#2962ff"/>
<rect x="589" y="230.1" width="5" height="5.8" fill="#2962ff"/>
<rect x="598" y="187.4" width="1" height="35.4" fill="#2962ff"/>
<rect x="596" y="190.1" width="5" height="30.8" fill="#2962ff"/>
<rect x="604" y="179.1" width="1" height="16.9" fill="#2962ff"/>
<rect x="602" y="180.1" width="5" height="9.6" fill="#2962ff"/>
<rect x="611" y="157.2" width="1" height="22.9" fill="#2962ff"/>
<rect x="609" y="158.5" width="5" height="18.5" fill="#2962ff"/>
<rect x="617" y="148.1" width="1" height="13.9" fill="#2962ff"/>
<rect x="615" y="151.0" width="5" height="10.0" fill="#2962ff"/>
<rect x="623" y="142.3" width="1" height="12.9" fill="#2962ff"/>
<rect x="621" y="147.0" width="5" height="6.0" fill="#2962ff"/>
<rect x="630" y="135.4" width="1" height="23.5" fill="#2962ff"/>
<rect x="628" y="142.9" width="5" height="5.0" fill="#2962ff"/>
<rect x="636" y="116.1" width="1" height="23.9" fill="#2962ff"/>
<rect x="634" y="120.1" width="5" height="19.9" fill="#2962ff"/>
<rect x="643" y="107.2" width="1" height="18.0" fill="#2962ff"/>
<rect x="641" y="112.1" width="5" height="8.8" fill="#2962ff"/>
<rect x="649" y="110.0" width="1" height="11.9" fill="#2962ff"/>
<rect x="647" y="115.1" width="5" height="4.9" fill="#2962ff"/>
<rect x="655" y="120.1" width="1" height="25.0" fill="#2962ff"/>
<rect x="653" y="121.6" width="5" height="12.3" fill="#2962ff"/>
<rect x="662" y="94.9" width="1" height="30.2" fill="#2962ff"/>
<rect x="660" y="101.0" width="5" height="21.0" fill="#2962ff"/>
<rect x="668" y="84.1" width="1" height="25.9" fill="#2962ff"/>
<rect x="666" y="84.1" width="5" height="23.9" fill="#2962ff"/>
<rect x="675" y="75.0" width="1" height="35.0" fill="#2962ff"/>
<rect x="673" y="87.3" width="5" height="2.5" fill="#2962ff"/>
<rect x="681" y="85.0" width="1" height="34.1" fill="#f23645"/>
<rect x="679" y="85.0" width="5" height="16.7" fill="#f23645"/>
<rect x="687" y="86.2" width="1" height="19.4" fill="#2962ff"/>
<rect x="685" y="90.1" width="5" height="7.6" fill="#2962ff"/>
<rect x="694" y="86.2" width="1" height="11.9" fill="#2962ff"/>
<rect x="692" y="91.9" width="5" height="1.0" fill="#2962ff"/>
<rect x="700" y="96.2" width="1" height="18.9" fill="#f23645"/>
<rect x="698" y="96.2" width="5" height="5.6" fill="#f23645"/>
<rect x="706" y="96.2" width="1" height="18.9" fill="#f23645"/>
<rect x="704" y="101.0" width="5" height="13.1" fill="#f23645"/>
<rect x="713" y="79.0" width="1" height="38.2" fill="#2962ff"/>
<rect x="711" y="79.0" width="5" height="35.0" fill="#2962ff"/>
<rect x="719" y="73.9" width="1" height="19.1" fill="#2962ff"/>
<rect x="717" y="73.9" width="5" height="3.2" fill="#2962ff"/>
<rect x="726" y="65.9" width="1" height="14.2" fill="#2962ff"/>
<rect x="724" y="72.3" width="5" height="2.7" fill="#2962ff"/>
<rect x="732" y="54.0" width="1" height="40.1" fill="#f23645"/>
<rect x="730" y="75.3" width="5" height="5.7" fill="#f23645"/>
<rect x="738" y="69.9" width="1" height="23.1" fill="#2962ff"/>
<rect x="736" y="79.0" width="5" height="7.2" fill="#2962ff"/>
<rect x="745" y="69.9" width="1" height="18.1" fill="#f23645"/>
<rect x="743" y="76.1" width="5" height="10.0" fill="#f23645"/>
<rect x="751" y="78.2" width="1" height="13.8" fill="#2962ff"/>
<rect x="749" y="80.1" width="5" height="8.8" fill="#2962ff"/>
<rect x="758" y="63.1" width="1" height="17.0" fill="#2962ff"/>
<rect x="756" y="67.1" width="5" height="11.9" fill="#2962ff"/>
<rect x="764" y="66.7" width="1" height="10.3" fill="#f23645"/>
<rect x="762" y="69.8" width="5" height="1.0" fill="#f23645"/>
<rect x="770" y="77.1" width="1" height="35.0" fill="#f23645"/>
<rect x="768" y="80.1" width="5" height="29.9" fill="#f23645"/>
<rect x="777" y="96.0" width="1" height="15.1" fill="#f23645"/>
<rect x="775" y="99.2" width="5" height="2.9" fill="#f23645"/>
<rect x="783" y="96.0" width="1" height="24.0" fill="#2962ff"/>
<rect x="781" y="98.1" width="5" height="17.8" fill="#2962ff"/>
<rect x="790" y="86.2" width="1" height="18.8" fill="#2962ff"/>
<rect x="788" y="89.0" width="5" height="10.2" fill="#2962ff"/>
<rect x="796" y="76.1" width="1" height="57.8" fill="#f23645"/>
<rect x="794" y="84.2" width="5" height="41.7" fill="#f23645"/>
<rect x="802" y="120.1" width="1" height="23.9" fill="#f23645"/>
<rect x="800" y="134.4" width="5" height="4.4" fill="#f23645"/>
<rect x="809" y="114.0" width="1" height="28.1" fill="#2962ff"/>
<rect x="807" y="114.0" width="5" height="24.0" fill="#2962ff"/>
<rect x="815" y="93.9" width="1" height="25.0" fill="#2962ff"/>
<rect x="813" y="95.8" width="5" height="16.0" fill="#2962ff"/>
<rect x="822" y="98.0" width="1" height="29.8" fill="#f23645"/>
<rect x="820" y="106.1" width="5" height="17.9" fill="#f23645"/>
<rect x="828" y="109.0" width="1" height="25.9" fill="#f23645"/>
<rect x="826" y="109.0" width="5" height="12.9" fill="#f23645"/>
<rect x="834" y="96.9" width="1" height="32.2" fill="#2962ff"/>
<rect x="832" y="98.0" width="5" height="20.9" fill="#2962ff"/>
<rect x="841" y="103.9" width="1" height="17.1" fill="#f23645"/>
<rect x="839" y="106.0" width="5" height="1.0" fill="#f23645"/>
<rect x="847" y="93.9" width="1" height="15.9" fill="#f23645"/>
<rect x="845" y="98.0" width="5" height="3.0" fill="#f23645"/>
<rect x="853" y="95.0" width="1" height="15.9" fill="#2962ff"/>
<rect x="851" y="99.1" width="5" height="2.8" fill="#2962ff"/>
<rect x="860" y="75.1" width="1" height="36.7" fill="#2962ff"/>
<rect x="858" y="80.1" width="5" height="19.8" fill="#2962ff"/>
<rect x="866" y="80.1" width="1" height="37.8" fill="#f23645"/>
<rect x="864" y="82.0" width="5" height="31.1" fill="#f23645"/>
<rect x="873" y="108.2" width="1" height="11.7" fill="#f23645"/>
<rect x="871" y="110.1" width="5" height="7.7" fill="#f23645"/>
<rect x="879" y="96.0" width="1" height="29.0" fill="#2962ff"/>
<rect x="877" y="101.9" width="5" height="20.1" fill="#2962ff"/>
<rect x="885" y="182.0" width="1" height="57.8" fill="#f23645"/>
<rect x="883" y="187.0" width="5" height="34.1" fill="#f23645"/>
<rect x="892" y="219.1" width="1" height="32.9" fill="#2962ff"/>
<rect x="890" y="225.0" width="5" height="14.0" fill="#2962ff"/>
<rect x="898" y="223.1" width="1" height="33.9" fill="#f23645"/>
<rect x="896" y="223.1" width="5" height="31.0" fill="#f23645"/>
<rect x="905" y="238.2" width="1" height="17.8" fill="#f23645"/>
<rect x="903" y="250.9" width="5" height="4.5" fill="#f23645"/>
<rect x="911" y="257.0" width="1" height="38.2" fill="#f23645"/>
<rect x="909" y="264.2" width="5" height="15.8" fill="#f23645"/>
<rect x="917" y="239.0" width="1" height="39.0" fill="#2962ff"/>
<rect x="915" y="240.1" width="5" height="33.9" fill="#2962ff"/>
<rect x="924" y="226.0" width="1" height="18.9" fill="#f23645"/>
<rect x="922" y="242.2" width="5" height="2.7" fill="#f23645"/>
<rect x="930" y="222.0" width="1" height="31.0" fill="#2962ff"/>
<rect x="928" y="229.9" width="5" height="17.8" fill="#2962ff"/>
<rect x="937" y="200.0" width="1" height="39.0" fill="#f23645"/>
<rect x="935" y="220.2" width="5" height="18.8" fill="#f23645"/>
<rect x="943" y="225.0" width="1" height="18.0" fill="#f23645"/>
<rect x="941" y="233.1" width="5" height="5.9" fill="#f23645"/>
<rect x="949" y="222.0" width="1" height="17.8" fill="#2962ff"/>
<rect x="947" y="229.1" width="5" height="10.7" fill="#2962ff"/>
<rect x="956" y="196.0" width="1" height="32.2" fill="#2962ff"/>
<rect x="954" y="207.2" width="5" height="15.9" fill="#2962ff"/>
<rect x="962" y="194.9" width="1" height="19.1" fill="#2962ff"/>
<rect x="960" y="197.9" width="5" height="10.0" fill="#2962ff"/>
<rect x="969" y="176.9" width="1" height="22.0" fill="#2962ff"/>
<rect x="967" y="182.0" width="5" height="16.9" fill="#2962ff"/>
<rect x="975" y="174.1" width="1" height="38.2" fill="#f23645"/>
<rect x="973" y="178.2" width="5" height="3.8" fill="#f23645"/>
<rect x="981" y="175.8" width="1" height="25.3" fill="#f23645"/>
<rect x="979" y="180.9" width="5" height="14.0" fill="#f23645"/>
<rect x="988" y="195.7" width="1" height="30.6" fill="#f23645"/>
<rect x="986" y="196.8" width="5" height="20.2" fill="#f23645"/>
<rect x="994" y="204.0" width="1" height="21.2" fill="#f23645"/>
<rect x="992" y="215.9" width="5" height="5.1" fill="#f23645"/>
<rect x="1000" y="208.0" width="1" height="21.2" fill="#2962ff"/>
<rect x="998" y="213.1" width="5" height="8.0" fill="#2962ff"/>
<rect x="1007" y="205.1" width="1" height="15.1" fill="#2962ff"/>
<rect x="1005" y="210.0" width="5" height="5.9" fill="#2962ff"/>
<rect x="1013" y="190.9" width="1" height="21.8" fill="#2962ff"/>
<rect x="1011" y="193.2" width="5" height="19.6" fill="#2962ff"/>
<rect x="1020" y="159.1" width="1" height="30.7" fill="#2962ff"/>
<rect x="1018" y="161.0" width="5" height="23.9" fill="#2962ff"/>
<rect x="1026" y="145.9" width="1" height="16.1" fill="#2962ff"/>
<rect x="1024" y="149.1" width="5" height="11.9" fill="#2962ff"/>
<rect x="1032" y="142.9" width="1" height="40.1" fill="#f23645"/>
<rect x="1030" y="146.0" width="5" height="24.7" fill="#f23645"/>
<rect x="1039" y="168.2" width="1" height="39.8" fill="#f23645"/>
<rect x="1037" y="169.9" width="5" height="34.9" fill="#f23645"/>
<rect x="1045" y="202.1" width="1" height="15.9" fill="#f23645"/>
<rect x="1043" y="204.0" width="5" height="6.0" fill="#f23645"/>
<rect x="1052" y="215.1" width="1" height="15.9" fill="#f23645"/>
<rect x="1050" y="215.1" width="5" height="14.8" fill="#f23645"/>
<rect x="1058" y="213.2" width="1" height="32.6" fill="#2962ff"/>
<rect x="1056" y="216.1" width="5" height="15.0" fill="#2962ff"/>
<rect x="1064" y="204.9" width="1" height="16.2" fill="#2962ff"/>
<rect x="1062" y="206.1" width="5" height="6.0" fill="#2962ff"/>
<rect x="1071" y="198.9" width="1" height="36.1" fill="#2962ff"/>
<rect x="1069" y="204.0" width="5" height="6.8" fill="#2962ff"/>
<rect x="1077" y="208.1" width="1" height="43.8" fill="#f23645"/>
<rect x="1075" y="216.9" width="5" height="19.9" fill="#f23645"/>
<rect x="1084" y="225.9" width="1" height="36.9" fill="#f23645"/>
<rect x="1082" y="245.0" width="5" height="8.0" fill="#f23645"/>
<rect x="1090" y="245.0" width="1" height="15.9" fill="#2962ff"/>
<rect x="1088" y="249.0" width="5" height="1.0" fill="#2962ff"/>
<rect x="1096" y="240.0" width="1" height="25.0" fill="#2962ff"/>
<rect x="1094" y="240.0" width="5" height="9.1" fill="#2962ff"/>
<rect x="1103" y="222.0" width="1" height="31.0" fill="#2962ff"/>
<rect x="1101" y="224.0" width="5" height="21.8" fill="#2962ff"/>
<rect x="1109" y="216.1" width="1" height="13.8" fill="#2962ff"/>
<rect x="1107" y="220.1" width="5" height="5.1" fill="#2962ff"/>
<rect x="1116" y="185.4" width="1" height="35.8" fill="#2962ff"/>
<rect x="1114" y="200.0" width="5" height="15.9" fill="#2962ff"/>
<rect x="1122" y="193.0" width="1" height="29.0" fill="#f23645"/>
<rect x="1120" y="204.0" width="5" height="11.1" fill="#f23645"/>
<rect x="1128" y="219.1" width="1" height="30.7" fill="#f23645"/>
<rect x="1126" y="219.1" width="5" height="30.7" fill="#f23645"/>
<rect x="1135" y="227.1" width="1" height="22.8" fill="#2962ff"/>
<rect x="1133" y="237.9" width="5" height="9.1" fill="#2962ff"/>
<rect x="1141" y="206.1" width="1" height="29.0" fill="#2962ff"/>
<rect x="1139" y="212.1" width="5" height="20.7" fill="#2962ff"/>
<rect x="1147" y="225.2" width="1" height="27.9" fill="#f23645"/>
<rect x="1145" y="229.9" width="5" height="19.1" fill="#f23645"/>
<rect x="1154" y="232.0" width="1" height="18.9" fill="#2962ff"/>
<rect x="1152" y="237.9" width="5" height="6.0" fill="#2962ff"/>
<rect x="1160" y="233.9" width="1" height="28.2" fill="#f23645"/>
<rect x="1158" y="243.9" width="5" height="3.0" fill="#f23645"/>
<rect x="1167" y="229.1" width="1" height="25.0" fill="#2962ff"/>
<rect x="1165" y="232.0" width="5" height="15.9" fill="#2962ff"/>
<rect x="1173" y="224.0" width="1" height="15.9" fill="#f23645"/>
<rect x="1171" y="233.9" width="5" height="5.1" fill="#f23645"/>
<rect x="1179" y="220.0" width="1" height="15.9" fill="#f23645"/>
<rect x="1177" y="226.9" width="5" height="3.9" fill="#f23645"/>
<rect x="1186" y="223.1" width="1" height="14.6" fill="#2962ff"/>
<rect x="1184" y="223.1" width="5" height="2.6" fill="#2962ff"/>
<rect x="1192" y="222.8" width="1" height="19.2" fill="#f23645"/>
<rect x="1190" y="225.7" width="5" height="13.4" fill="#f23645"/>
<rect x="1199" y="232.9" width="1" height="15.1" fill="#f23645"/>
<rect x="1197" y="239.1" width="5" height="5.8" fill="#f23645"/>
<rect x="1205" y="230.0" width="1" height="42.5" fill="#f23645"/>
<rect x="1203" y="239.1" width="5" height="17.0" fill="#f23645"/>
<rect x="1211" y="244.9" width="1" height="35.1" fill="#f23645"/>
<rect x="1209" y="257.0" width="5" height="21.8" fill="#f23645"/>
<rect x="1218" y="289.1" width="1" height="40.6" fill="#f23645"/>
<rect x="1216" y="293.7" width="5" height="21.1" fill="#f23645"/>
<rect x="1224" y="310.8" width="1" height="21.1" fill="#2962ff"/>
<rect x="1222" y="311.9" width="5" height="11.8" fill="#2962ff"/>
<rect x="1231" y="298.8" width="1" height="21.9" fill="#2962ff"/>
<rect x="1229" y="304.0" width="5" height="9.1" fill="#2962ff"/>
<rect x="1237" y="298.0" width="1" height="23.6" fill="#2962ff"/>
<rect x="1235" y="298.0" width="5" height="6.9" fill="#2962ff"/>
<rect x="1243" y="286.2" width="1" height="25.7" fill="#2962ff"/>
<rect x="1241" y="286.2" width="5" height="12.7" fill="#2962ff"/>
<rect x="1250" y="248.8" width="1" height="36.0" fill="#2962ff"/>
<rect x="1248" y="258.2" width="5" height="24.8" fill="#2962ff"/>
<rect x="1256" y="264.8" width="1" height="23.1" fill="#2962ff"/>
<rect x="1254" y="266.0" width="5" height="8.1" fill="#2962ff"/>
<rect x="1263" y="251.9" width="1" height="24.8" fill="#2962ff"/>
<rect x="1261" y="268.9" width="5" height="6.5" fill="#2962ff"/>
<rect x="1269" y="262.0" width="1" height="18.8" fill="#f23645"/>
<rect x="1267" y="278.1" width="5" height="1.0" fill="#f23645"/>
<rect x="1275" y="271.9" width="1" height="23.1" fill="#f23645"/>
<rect x="1273" y="271.9" width="5" height="21.9" fill="#f23645"/>
<rect x="1282" y="269.0" width="1" height="17.0" fill="#2962ff"/>
<rect x="1280" y="275.9" width="5" height="8.9" fill="#2962ff"/>
<rect x="1288" y="256.0" width="1" height="27.1" fill="#f23645"/>
<rect x="1286" y="275.9" width="5" height="1.0" fill="#f23645"/>
<rect x="1294" y="293.0" width="1" height="105.9" fill="#f23645"/>
<rect x="1292" y="302.8" width="5" height="21.9" fill="#f23645"/>
<rect x="1301" y="285.1" width="1" height="45.9" fill="#2962ff"/>
<rect x="1299" y="286.2" width="5" height="39.7" fill="#2962ff"/>
</g>
<line x1="14" y1="286.5" x2="1338" y2="286.5" stroke="#2962ff" stroke-width="1.1" stroke-dasharray="1.1,1.9"/>
<g stroke="#ffeb3b" stroke-width="3" fill="none" stroke-linecap="round" stroke-linejoin="miter"><line x1="1294.4" y1="210" x2="1294.4" y2="279"/><polyline points="1275.8,260.5 1294.4,279.6 1313.8,261"/></g>
<text x="32.9" y="615.7" font-size="15.5" fill="#e98785" stroke="#e98785" stroke-width="0.3" textLength="44.6" lengthAdjust="spacingAndGlyphs">116.12</text>
<text x="249.7" y="262.9" font-size="15.5" fill="#5b9cf6" stroke="#5b9cf6" stroke-width="0.3" textLength="44.6" lengthAdjust="spacingAndGlyphs">159.51</text>
<text x="275.3" y="356.0" font-size="15.5" fill="#e98785" stroke="#e98785" stroke-width="0.3" textLength="44.6" lengthAdjust="spacingAndGlyphs">149.65</text>
<text x="390.5" y="233.9" font-size="15.5" fill="#5b9cf6" stroke="#5b9cf6" stroke-width="0.3" textLength="44.6" lengthAdjust="spacingAndGlyphs">163.08</text>
<text x="403.4" y="389.9" font-size="15.5" fill="#e98785" stroke="#e98785" stroke-width="0.3" textLength="44.6" lengthAdjust="spacingAndGlyphs">145.08</text>
<text x="538.0" y="129.7" font-size="15.5" fill="#5b9cf6" stroke="#5b9cf6" stroke-width="0.3" textLength="44.6" lengthAdjust="spacingAndGlyphs">176.49</text>
<text x="557.2" y="255.8" font-size="15.5" fill="#e98785" stroke="#e98785" stroke-width="0.3" textLength="44.6" lengthAdjust="spacingAndGlyphs">162.37</text>
<text x="710.2" y="50.5" font-size="15.5" fill="#5b9cf6" stroke="#5b9cf6" stroke-width="0.3" textLength="44.6" lengthAdjust="spacingAndGlyphs">186.69</text>
<text x="780.3" y="157.7" font-size="15.5" fill="#e98785" stroke="#e98785" stroke-width="0.3" textLength="44.6" lengthAdjust="spacingAndGlyphs">175.13</text>
<text x="838.2" y="70.4" font-size="15.5" fill="#5b9cf6" stroke="#5b9cf6" stroke-width="0.3" textLength="44.6" lengthAdjust="spacingAndGlyphs">183.99</text>
<text x="889.2" y="308.3" font-size="15.5" fill="#e98785" stroke="#e98785" stroke-width="0.3" textLength="44.6" lengthAdjust="spacingAndGlyphs">155.70</text>
<text x="1010.2" y="139.8" font-size="15.5" fill="#5b9cf6" stroke="#5b9cf6" stroke-width="0.3" textLength="44.6" lengthAdjust="spacingAndGlyphs">175.23</text>
<text x="1074.3" y="278.4" font-size="15.5" fill="#e98785" stroke="#e98785" stroke-width="0.3" textLength="44.6" lengthAdjust="spacingAndGlyphs">159.57</text>
<text x="1093.9" y="180.6" font-size="15.5" fill="#5b9cf6" stroke="#5b9cf6" stroke-width="0.3" textLength="44.6" lengthAdjust="spacingAndGlyphs">169.86</text>
<text x="1202.5" y="345.7" font-size="15.5" fill="#e98785" stroke="#e98785" stroke-width="0.3" textLength="44.6" lengthAdjust="spacingAndGlyphs">150.88</text>
<circle cx="1302" cy="690" r="12" fill="#101010" stroke="#ab47bc" stroke-width="2"/>
<path d="M163.6,677.9 L174.9,686.1999999999999 L174.9,699.6 Q174.9,702.6 171.9,702.6 L155.29999999999998,702.6 Q152.29999999999998,702.6 152.29999999999998,699.6 L152.29999999999998,686.1999999999999 Z" fill="#101010" stroke="#131722" stroke-width="4.5" stroke-linejoin="round"/>
<path d="M163.6,677.9 L174.9,686.1999999999999 L174.9,699.6 Q174.9,702.6 171.9,702.6 L155.29999999999998,702.6 Q152.29999999999998,702.6 152.29999999999998,699.6 L152.29999999999998,686.1999999999999 Z" fill="#101010" stroke="#089981" stroke-width="2" stroke-linejoin="round"/>
<text x="159.6" y="696.0" font-size="15" font-weight="bold" fill="#089981" textLength="8.2" lengthAdjust="spacingAndGlyphs">E</text>
<path d="M496.6,677.9 L507.90000000000003,686.1999999999999 L507.90000000000003,699.6 Q507.90000000000003,702.6 504.90000000000003,702.6 L488.3,702.6 Q485.3,702.6 485.3,699.6 L485.3,686.1999999999999 Z" fill="#101010" stroke="#131722" stroke-width="4.5" stroke-linejoin="round"/>
<path d="M496.6,677.9 L507.90000000000003,686.1999999999999 L507.90000000000003,699.6 Q507.90000000000003,702.6 504.90000000000003,702.6 L488.3,702.6 Q485.3,702.6 485.3,699.6 L485.3,686.1999999999999 Z" fill="#101010" stroke="#089981" stroke-width="2" stroke-linejoin="round"/>
<text x="492.6" y="696.0" font-size="15" font-weight="bold" fill="#089981" textLength="8.2" lengthAdjust="spacingAndGlyphs">E</text>
<path d="M885.6,677.9 L896.9,686.1999999999999 L896.9,699.6 Q896.9,702.6 893.9,702.6 L877.3000000000001,702.6 Q874.3000000000001,702.6 874.3000000000001,699.6 L874.3000000000001,686.1999999999999 Z" fill="#101010" stroke="#131722" stroke-width="4.5" stroke-linejoin="round"/>
<path d="M885.6,677.9 L896.9,686.1999999999999 L896.9,699.6 Q896.9,702.6 893.9,702.6 L877.3000000000001,702.6 Q874.3000000000001,702.6 874.3000000000001,699.6 L874.3000000000001,686.1999999999999 Z" fill="#101010" stroke="#089981" stroke-width="2" stroke-linejoin="round"/>
<text x="881.6" y="696.0" font-size="15" font-weight="bold" fill="#089981" textLength="8.2" lengthAdjust="spacingAndGlyphs">E</text>
<path d="M1294.6,677.9 L1305.8999999999999,686.1999999999999 L1305.8999999999999,699.6 Q1305.8999999999999,702.6 1302.8999999999999,702.6 L1286.3,702.6 Q1283.3,702.6 1283.3,699.6 L1283.3,686.1999999999999 Z" fill="#101010" stroke="#131722" stroke-width="4.5" stroke-linejoin="round"/>
<path d="M1294.6,677.9 L1305.8999999999999,686.1999999999999 L1305.8999999999999,699.6 Q1305.8999999999999,702.6 1302.8999999999999,702.6 L1286.3,702.6 Q1283.3,702.6 1283.3,699.6 L1283.3,686.1999999999999 Z" fill="#101010" stroke="#089981" stroke-width="2" stroke-linejoin="round"/>
<text x="1290.6" y="696.0" font-size="15" font-weight="bold" fill="#089981" textLength="8.2" lengthAdjust="spacingAndGlyphs">E</text>
<circle cx="349.7" cy="690.3" r="14.8" fill="#131722"/>
<circle cx="349.7" cy="690.3" r="12.8" fill="#101010" stroke="#1e53e5" stroke-width="2.1"/>
<text x="345.2" y="695.9" font-size="15.2" font-weight="bold" fill="#2962ff" textLength="9.4" lengthAdjust="spacingAndGlyphs">D</text>
<circle cx="783.7" cy="690.3" r="14.8" fill="#131722"/>
<circle cx="783.7" cy="690.3" r="12.8" fill="#101010" stroke="#1e53e5" stroke-width="2.1"/>
<text x="779.2" y="695.9" font-size="15.2" font-weight="bold" fill="#2962ff" textLength="9.4" lengthAdjust="spacingAndGlyphs">D</text>
<circle cx="1218.7" cy="690.3" r="14.8" fill="#131722"/>
<circle cx="1218.7" cy="690.3" r="12.8" fill="#101010" stroke="#1e53e5" stroke-width="2.1"/>
<text x="1214.2" y="695.9" font-size="15.2" font-weight="bold" fill="#2962ff" textLength="9.4" lengthAdjust="spacingAndGlyphs">D</text>
<clipPath id="cp"><rect x="12.6" y="0" width="1430" height="741"/></clipPath>
<g clip-path="url(#cp)">
<text x="16.5" y="729.7" font-size="14.7" fill="#b2b5be" stroke="#b2b5be" stroke-width="0.25" text-anchor="middle" font-weight="bold">2025</text>
<text x="144.5" y="729.7" font-size="14.7" fill="#b2b5be" stroke="#b2b5be" stroke-width="0.25" text-anchor="middle">Feb</text>
<text x="265.5" y="729.7" font-size="14.7" fill="#b2b5be" stroke="#b2b5be" stroke-width="0.25" text-anchor="middle">Mar</text>
<text x="400.5" y="729.7" font-size="14.7" fill="#b2b5be" stroke="#b2b5be" stroke-width="0.25" text-anchor="middle">Apr</text>
<text x="534.5" y="729.7" font-size="14.7" fill="#b2b5be" stroke="#b2b5be" stroke-width="0.25" text-anchor="middle">May</text>
<text x="668.5" y="729.7" font-size="14.7" fill="#b2b5be" stroke="#b2b5be" stroke-width="0.25" text-anchor="middle">Jun</text>
<text x="796.5" y="729.7" font-size="14.7" fill="#b2b5be" stroke="#b2b5be" stroke-width="0.25" text-anchor="middle">Jul</text>
<text x="937.5" y="729.7" font-size="14.7" fill="#b2b5be" stroke="#b2b5be" stroke-width="0.25" text-anchor="middle">Aug</text>
<text x="1071.5" y="729.7" font-size="14.7" fill="#b2b5be" stroke="#b2b5be" stroke-width="0.25" text-anchor="middle">Sep</text>
<text x="1205.5" y="729.7" font-size="14.7" fill="#b2b5be" stroke="#b2b5be" stroke-width="0.25" text-anchor="middle">Oct</text>
<text x="1352.5" y="729.7" font-size="14.7" fill="#b2b5be" stroke="#b2b5be" stroke-width="0.25" text-anchor="middle">Nov</text>
</g>
<text x="1379.2" y="33.3" font-size="15.5" fill="#b2b5be" stroke="#b2b5be" stroke-width="0.25" textLength="45.7" lengthAdjust="spacingAndGlyphs">190.00</text>
<text x="1379.2" y="72.2" font-size="15.5" fill="#b2b5be" stroke="#b2b5be" stroke-width="0.25" textLength="45.7" lengthAdjust="spacingAndGlyphs">185.00</text>
<text x="1379.2" y="111.1" font-size="15.5" fill="#b2b5be" stroke="#b2b5be" stroke-width="0.25" textLength="45.7" lengthAdjust="spacingAndGlyphs">180.00</text>
<text x="1379.2" y="150.0" font-size="15.5" fill="#b2b5be" stroke="#b2b5be" stroke-width="0.25" textLength="45.7" lengthAdjust="spacingAndGlyphs">175.00</text>
<text x="1379.2" y="189.0" font-size="15.5" fill="#b2b5be" stroke="#b2b5be" stroke-width="0.25" textLength="45.7" lengthAdjust="spacingAndGlyphs">170.00</text>
<text x="1379.2" y="227.9" font-size="15.5" fill="#b2b5be" stroke="#b2b5be" stroke-width="0.25" textLength="45.7" lengthAdjust="spacingAndGlyphs">165.00</text>
<text x="1379.2" y="266.8" font-size="15.5" fill="#b2b5be" stroke="#b2b5be" stroke-width="0.25" textLength="45.7" lengthAdjust="spacingAndGlyphs">160.00</text>
<text x="1379.2" y="305.7" font-size="15.5" fill="#b2b5be" stroke="#b2b5be" stroke-width="0.25" textLength="45.7" lengthAdjust="spacingAndGlyphs">155.00</text>
<text x="1379.2" y="344.6" font-size="15.5" fill="#b2b5be" stroke="#b2b5be" stroke-width="0.25" textLength="45.7" lengthAdjust="spacingAndGlyphs">150.00</text>
<text x="1379.2" y="383.6" font-size="15.5" fill="#b2b5be" stroke="#b2b5be" stroke-width="0.25" textLength="45.7" lengthAdjust="spacingAndGlyphs">145.00</text>
<text x="1379.2" y="422.5" font-size="15.5" fill="#b2b5be" stroke="#b2b5be" stroke-width="0.25" textLength="45.7" lengthAdjust="spacingAndGlyphs">140.00</text>
<text x="1379.2" y="461.4" font-size="15.5" fill="#b2b5be" stroke="#b2b5be" stroke-width="0.25" textLength="45.7" lengthAdjust="spacingAndGlyphs">135.00</text>
<text x="1379.2" y="500.3" font-size="15.5" fill="#b2b5be" stroke="#b2b5be" stroke-width="0.25" textLength="45.7" lengthAdjust="spacingAndGlyphs">130.00</text>
<text x="1379.2" y="539.2" font-size="15.5" fill="#b2b5be" stroke="#b2b5be" stroke-width="0.25" textLength="45.7" lengthAdjust="spacingAndGlyphs">125.00</text>
<text x="1379.2" y="578.1" font-size="15.5" fill="#b2b5be" stroke="#b2b5be" stroke-width="0.25" textLength="45.7" lengthAdjust="spacingAndGlyphs">120.00</text>
<text x="1379.2" y="617.1" font-size="15.5" fill="#b2b5be" stroke="#b2b5be" stroke-width="0.25" textLength="45.7" lengthAdjust="spacingAndGlyphs">115.00</text>
<text x="1379.2" y="656.0" font-size="15.5" fill="#b2b5be" stroke="#b2b5be" stroke-width="0.25" textLength="45.7" lengthAdjust="spacingAndGlyphs">110.00</text>
<text x="1379.2" y="694.9" font-size="15.5" fill="#b2b5be" stroke="#b2b5be" stroke-width="0.25" textLength="45.7" lengthAdjust="spacingAndGlyphs">105.00</text>
<rect x="1368.8" y="231" width="62.40000000000009" height="21" rx="2.5" fill="#f23645"/>
<text x="1402.9" y="247.1" font-size="15" fill="#ffffff" stroke="#ffffff" stroke-width="0.3" text-anchor="middle">162.63</text>
<rect x="1368.8" y="265" width="62.40000000000009" height="21" rx="2.5" fill="#f48fb1"/>
<text x="1402.9" y="281.1" font-size="15" fill="#131722" stroke="#131722" stroke-width="0.3" text-anchor="middle">158.39</text>
<rect x="1368.8" y="244.4" width="62.40000000000009" height="20.599999999999994" rx="2.5" fill="#b8b8b8"/>
<text x="1402.9" y="260.3" font-size="15" fill="#131722" stroke="#131722" stroke-width="0.3" text-anchor="middle">160.90</text>
<rect x="1368.8" y="276.4" width="62.40000000000009" height="20.600000000000023" rx="2.5" fill="#2962ff"/>
<text x="1402.9" y="292.3" font-size="15" fill="#ffffff" stroke="#ffffff" stroke-width="0.3" text-anchor="middle">156.86</text>
<rect x="1338" y="276.4" width="29.799999999999955" height="20.600000000000023" rx="2.5" fill="#2962ff"/>
<text x="1352.9" y="292.3" font-size="15" fill="#ffffff" stroke="#ffffff" stroke-width="0.3" text-anchor="middle">PM</text>
<rect x="1368.8" y="613.6" width="67.4" height="21.2" rx="2.5" fill="#2962ff"/>
<text x="1405.5" y="629.8" font-size="15" fill="#ffffff" stroke="#ffffff" stroke-width="0.35" text-anchor="middle">12.74M</text>
<rect x="1376" y="-1" width="56" height="1.8" fill="#3a3d46"/>
<g fill="#2e2e2e"><rect x="12" y="0" width="2" height="742"/><rect x="12" y="741" width="1429" height="1.5"/><rect x="1439" y="0" width="2" height="742"/></g>
<g fill="#d9d9d9"><path d="M15.2,769.4 H30.4 V788.2 H22.7 V777.1 H15.2 Z"/><circle cx="36.6" cy="773.1" r="3.7"/><path d="M41.6,769.4 H52.8 L46.9,788.2 H36.6 Z"/></g>
<text x="62" y="788.2" font-size="25.8" font-weight="bold" fill="#d9d9d9" textLength="151" lengthAdjust="spacingAndGlyphs">TradingView</text>
</svg>
</body></html>
